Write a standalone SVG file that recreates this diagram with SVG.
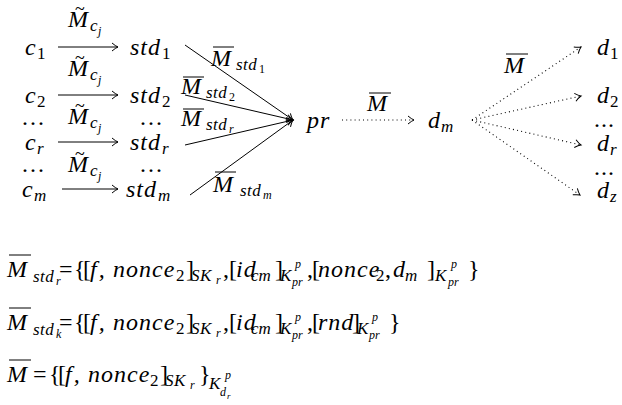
<svg xmlns="http://www.w3.org/2000/svg" width="622" height="405" viewBox="0 0 622 405">
<style>
.ov{stroke:#000;stroke-width:1}
.ln{stroke:#000;stroke-width:1;fill:none}
.dt{stroke:#000;stroke-width:1.1;fill:none;stroke-dasharray:1 3.2}
</style>
<defs>
<marker id="ah" viewBox="-8 -5 10 10" markerWidth="10" markerHeight="10" refX="0" refY="0" orient="auto" markerUnits="userSpaceOnUse">
<path d="M-6,-4 Q-2.5,-1 0,0 Q-2.5,1 -6,4" fill="none" stroke="#000" stroke-width="1"/>
</marker>
</defs>
<rect width="622" height="405" fill="#fff"/>

<g id="connectors">
<line class="ln" x1="58" y1="47" x2="118" y2="47" marker-end="url(#ah)"/>
<line class="ln" x1="58" y1="95" x2="118" y2="95" marker-end="url(#ah)"/>
<line class="ln" x1="58" y1="142" x2="118" y2="142" marker-end="url(#ah)"/>
<line class="ln" x1="62" y1="189" x2="118" y2="189" marker-end="url(#ah)"/>
<line class="ln" x1="185" y1="45" x2="293" y2="120" marker-end="url(#ah)"/>
<line class="ln" x1="185" y1="95" x2="293" y2="120" marker-end="url(#ah)"/>
<line class="ln" x1="185" y1="145" x2="293" y2="120" marker-end="url(#ah)"/>
<line class="ln" x1="190" y1="195" x2="293" y2="120" marker-end="url(#ah)"/>
<line class="dt" x1="342" y1="120" x2="414" y2="120" marker-end="url(#ah)"/>
<line class="dt" x1="472" y1="120" x2="581" y2="47" marker-end="url(#ah)"/>
<line class="dt" x1="472" y1="120" x2="581" y2="96" marker-end="url(#ah)"/>
<line class="dt" x1="472" y1="120" x2="581" y2="145" marker-end="url(#ah)"/>
<line class="dt" x1="472" y1="120" x2="580" y2="195" marker-end="url(#ah)"/>
</g>

<g id="conn-labels">
<g><text style="font-family:'Liberation Serif';font-size:18px" x="75" y="15">~</text><text style="font-family:'Liberation Serif';font-style:italic;font-size:24px" x="68" y="27">M</text><text style="font-family:'Liberation Serif';font-style:italic;font-size:17px" x="90" y="31">c</text><text style="font-family:'Liberation Serif';font-style:italic;font-size:12px" x="98" y="35">j</text></g>
<g><text style="font-family:'Liberation Serif';font-size:18px" x="75" y="64">~</text><text style="font-family:'Liberation Serif';font-style:italic;font-size:24px" x="68" y="76">M</text><text style="font-family:'Liberation Serif';font-style:italic;font-size:17px" x="90" y="80">c</text><text style="font-family:'Liberation Serif';font-style:italic;font-size:12px" x="98" y="84">j</text></g>
<g><text style="font-family:'Liberation Serif';font-size:18px" x="75" y="112">~</text><text style="font-family:'Liberation Serif';font-style:italic;font-size:24px" x="68" y="124">M</text><text style="font-family:'Liberation Serif';font-style:italic;font-size:17px" x="90" y="128">c</text><text style="font-family:'Liberation Serif';font-style:italic;font-size:12px" x="98" y="132">j</text></g>
<g><text style="font-family:'Liberation Serif';font-size:18px" x="75" y="160">~</text><text style="font-family:'Liberation Serif';font-style:italic;font-size:24px" x="68" y="172">M</text><text style="font-family:'Liberation Serif';font-style:italic;font-size:17px" x="90" y="176">c</text><text style="font-family:'Liberation Serif';font-style:italic;font-size:12px" x="98" y="180">j</text></g>
<g><line class="ov" x1="213" y1="47" x2="234" y2="47"/><text style="font-family:'Liberation Serif';font-style:italic;font-size:24px" x="211" y="66">M</text><text style="font-family:'Liberation Serif';font-style:italic;font-size:17px;letter-spacing:0.5px" x="236" y="70">std</text><text style="font-family:'Liberation Serif';font-size:12px" x="259" y="73">1</text></g>
<g><line class="ov" x1="183" y1="77" x2="204" y2="77"/><text style="font-family:'Liberation Serif';font-style:italic;font-size:24px" x="181" y="94">M</text><text style="font-family:'Liberation Serif';font-style:italic;font-size:17px;letter-spacing:0.5px" x="206" y="98">std</text><text style="font-family:'Liberation Serif';font-size:12px" x="229" y="101">2</text></g>
<g><line class="ov" x1="183" y1="109" x2="204" y2="109"/><text style="font-family:'Liberation Serif';font-style:italic;font-size:24px" x="181" y="126">M</text><text style="font-family:'Liberation Serif';font-style:italic;font-size:17px;letter-spacing:0.5px" x="206" y="130">std</text><text style="font-family:'Liberation Serif';font-style:italic;font-size:12px" x="229" y="133">r</text></g>
<g><line class="ov" x1="215" y1="172" x2="236" y2="172"/><text style="font-family:'Liberation Serif';font-style:italic;font-size:24px" x="213" y="192">M</text><text style="font-family:'Liberation Serif';font-style:italic;font-size:17px;letter-spacing:0.5px" x="240" y="196">std</text><text style="font-family:'Liberation Serif';font-style:italic;font-size:12px" x="263" y="199">m</text></g>
<g><line class="ov" x1="369" y1="93" x2="391" y2="93"/><text style="font-family:'Liberation Serif';font-style:italic;font-size:24px" x="367" y="111">M</text></g>
<g><line class="ov" x1="506" y1="54" x2="528" y2="54"/><text style="font-family:'Liberation Serif';font-style:italic;font-size:24px" x="504" y="73">M</text></g>
</g>

<g id="c1"><text style="font-family:'Liberation Serif';font-style:italic;font-size:24px" x="25" y="55">c</text><text style="font-family:'Liberation Serif';font-size:17px" x="37" y="59">1</text></g>
<g id="c2"><text style="font-family:'Liberation Serif';font-style:italic;font-size:24px" x="25" y="103">c</text><text style="font-family:'Liberation Serif';font-size:17px" x="37" y="107">2</text></g>
<g id="cdots1"><text style="font-family:'Liberation Serif';font-size:24px;letter-spacing:2px" x="22" y="125">...</text></g>
<g id="cr"><text style="font-family:'Liberation Serif';font-style:italic;font-size:24px" x="25" y="150">c</text><text style="font-family:'Liberation Serif';font-style:italic;font-size:17px" x="37" y="154">r</text></g>
<g id="cdots2"><text style="font-family:'Liberation Serif';font-size:24px;letter-spacing:2px" x="22" y="172">...</text></g>
<g id="cm"><text style="font-family:'Liberation Serif';font-style:italic;font-size:24px" x="22" y="197">c</text><text style="font-family:'Liberation Serif';font-style:italic;font-size:17px" x="34" y="201">m</text></g>

<g id="std1"><text style="font-family:'Liberation Serif';font-style:italic;font-size:24px;letter-spacing:1px" x="130" y="55">std</text><text style="font-family:'Liberation Serif';font-size:17px" x="162" y="59">1</text></g>
<g id="std2"><text style="font-family:'Liberation Serif';font-style:italic;font-size:24px;letter-spacing:1px" x="130" y="103">std</text><text style="font-family:'Liberation Serif';font-size:17px" x="162" y="107">2</text></g>
<g id="stddots1"><text style="font-family:'Liberation Serif';font-size:24px;letter-spacing:2px" x="140" y="125">...</text></g>
<g id="stdr"><text style="font-family:'Liberation Serif';font-style:italic;font-size:24px;letter-spacing:1px" x="130" y="150">std</text><text style="font-family:'Liberation Serif';font-style:italic;font-size:17px" x="162" y="154">r</text></g>
<g id="stddots2"><text style="font-family:'Liberation Serif';font-size:24px;letter-spacing:2px" x="140" y="172">...</text></g>
<g id="stdm"><text style="font-family:'Liberation Serif';font-style:italic;font-size:24px;letter-spacing:1px" x="126" y="197">std</text><text style="font-family:'Liberation Serif';font-style:italic;font-size:17px" x="158" y="201">m</text></g>

<g id="pr"><text style="font-family:'Liberation Serif';font-style:italic;font-size:24px;letter-spacing:1px" x="307" y="128">pr</text></g>
<g id="dm"><text style="font-family:'Liberation Serif';font-style:italic;font-size:24px" x="428" y="128">d</text><text style="font-family:'Liberation Serif';font-style:italic;font-size:17px;letter-spacing:1px" x="441" y="132">m</text></g>

<g id="d1"><text style="font-family:'Liberation Serif';font-style:italic;font-size:24px" x="597" y="55">d</text><text style="font-family:'Liberation Serif';font-size:17px" x="610" y="59">1</text></g>
<g id="d2"><text style="font-family:'Liberation Serif';font-style:italic;font-size:24px" x="597" y="103">d</text><text style="font-family:'Liberation Serif';font-size:17px" x="610" y="107">2</text></g>
<g id="ddots1"><text style="font-family:'Liberation Serif';font-size:24px;letter-spacing:1px" x="594" y="127">...</text></g>
<g id="dr"><text style="font-family:'Liberation Serif';font-style:italic;font-size:24px" x="597" y="151">d</text><text style="font-family:'Liberation Serif';font-style:italic;font-size:17px" x="610" y="155">r</text></g>
<g id="ddots2"><text style="font-family:'Liberation Serif';font-size:24px;letter-spacing:1px" x="594" y="175">...</text></g>
<g id="dz"><text style="font-family:'Liberation Serif';font-style:italic;font-size:24px" x="597" y="198">d</text><text style="font-family:'Liberation Serif';font-style:italic;font-size:17px" x="610" y="202">z</text></g>

<g id="eq1">
<line class="ov" x1="9" y1="255" x2="31" y2="255"/>
<text style="font-family:'Liberation Serif';font-style:italic;font-size:24px" x="7" y="277">M</text><text style="font-family:'Liberation Serif';font-style:italic;font-size:17px;letter-spacing:0.5px" x="33" y="282">std</text><text style="font-family:'Liberation Serif';font-style:italic;font-size:12px" x="56" y="285">r</text>
<text style="font-family:'Liberation Serif';font-size:24px" x="59" y="277">=</text>
<text style="font-family:'Liberation Serif';font-size:24px" x="74" y="277">{</text>
<text style="font-family:'Liberation Serif';font-size:24px" x="83" y="277">[</text>
<text style="font-family:'Liberation Serif';font-style:italic;font-size:24px;letter-spacing:2px" x="90" y="277">f,</text>
<text style="font-family:'Liberation Serif';font-style:italic;font-size:24px;letter-spacing:1px" x="113" y="277">nonce</text><text style="font-family:'Liberation Serif';font-size:17px" x="176" y="281">2</text>
<text style="font-family:'Liberation Serif';font-size:24px" x="186" y="277">]</text>
<text style="font-family:'Liberation Serif';font-style:italic;font-size:17px;letter-spacing:0.5px" x="191" y="281">SK</text><text style="font-family:'Liberation Serif';font-style:italic;font-size:12px" x="216" y="284">r</text>
<text style="font-family:'Liberation Serif';font-size:24px" x="223" y="277">,</text>
<text style="font-family:'Liberation Serif';font-size:24px" x="229" y="277">[</text>
<text style="font-family:'Liberation Serif';font-style:italic;font-size:24px;letter-spacing:1px" x="236" y="277">id</text><text style="font-family:'Liberation Serif';font-style:italic;font-size:17px" x="251" y="281">cm</text>
<text style="font-family:'Liberation Serif';font-size:24px" x="275" y="277">]</text>
<text style="font-family:'Liberation Serif';font-style:italic;font-size:17px" x="280" y="281">K</text><text style="font-family:'Liberation Serif';font-style:italic;font-size:12px" x="295" y="268">p</text><text style="font-family:'Liberation Serif';font-style:italic;font-size:12px" x="292" y="286">pr</text>
<text style="font-family:'Liberation Serif';font-size:24px" x="307" y="277">,</text>
<text style="font-family:'Liberation Serif';font-size:24px" x="312" y="277">[</text>
<text style="font-family:'Liberation Serif';font-style:italic;font-size:24px;letter-spacing:1px" x="318" y="277">nonce</text><text style="font-family:'Liberation Serif';font-size:17px" x="376" y="281">2</text>
<text style="font-family:'Liberation Serif';font-size:24px" x="385" y="277">,</text>
<text style="font-family:'Liberation Serif';font-style:italic;font-size:24px" x="393" y="277">d</text><text style="font-family:'Liberation Serif';font-style:italic;font-size:17px;letter-spacing:1px" x="405" y="281">m</text>
<text style="font-family:'Liberation Serif';font-size:24px" x="427" y="277">]</text>
<text style="font-family:'Liberation Serif';font-style:italic;font-size:17px" x="435" y="281">K</text><text style="font-family:'Liberation Serif';font-style:italic;font-size:12px" x="451" y="268">p</text><text style="font-family:'Liberation Serif';font-style:italic;font-size:12px" x="448" y="286">pr</text>
<text style="font-family:'Liberation Serif';font-size:24px" x="468" y="277">}</text>
</g>

<g id="eq2">
<line class="ov" x1="9" y1="308" x2="31" y2="308"/>
<text style="font-family:'Liberation Serif';font-style:italic;font-size:24px" x="7" y="330">M</text><text style="font-family:'Liberation Serif';font-style:italic;font-size:17px;letter-spacing:0.5px" x="33" y="335">std</text><text style="font-family:'Liberation Serif';font-style:italic;font-size:12px" x="56" y="338">k</text>
<text style="font-family:'Liberation Serif';font-size:24px" x="59" y="330">=</text>
<text style="font-family:'Liberation Serif';font-size:24px" x="74" y="330">{</text>
<text style="font-family:'Liberation Serif';font-size:24px" x="83" y="330">[</text>
<text style="font-family:'Liberation Serif';font-style:italic;font-size:24px;letter-spacing:2px" x="90" y="330">f,</text>
<text style="font-family:'Liberation Serif';font-style:italic;font-size:24px;letter-spacing:1px" x="113" y="330">nonce</text><text style="font-family:'Liberation Serif';font-size:17px" x="176" y="334">2</text>
<text style="font-family:'Liberation Serif';font-size:24px" x="186" y="330">]</text>
<text style="font-family:'Liberation Serif';font-style:italic;font-size:17px;letter-spacing:0.5px" x="191" y="334">SK</text><text style="font-family:'Liberation Serif';font-style:italic;font-size:12px" x="216" y="337">r</text>
<text style="font-family:'Liberation Serif';font-size:24px" x="223" y="330">,</text>
<text style="font-family:'Liberation Serif';font-size:24px" x="229" y="330">[</text>
<text style="font-family:'Liberation Serif';font-style:italic;font-size:24px;letter-spacing:1px" x="236" y="330">id</text><text style="font-family:'Liberation Serif';font-style:italic;font-size:17px" x="251" y="334">cm</text>
<text style="font-family:'Liberation Serif';font-size:24px" x="275" y="330">]</text>
<text style="font-family:'Liberation Serif';font-style:italic;font-size:17px" x="280" y="334">K</text><text style="font-family:'Liberation Serif';font-style:italic;font-size:12px" x="295" y="321">p</text><text style="font-family:'Liberation Serif';font-style:italic;font-size:12px" x="292" y="339">pr</text>
<text style="font-family:'Liberation Serif';font-size:24px" x="307" y="330">,</text>
<text style="font-family:'Liberation Serif';font-size:24px" x="312" y="330">[</text>
<text style="font-family:'Liberation Serif';font-style:italic;font-size:24px;letter-spacing:1px" x="318" y="330">rnd</text>
<text style="font-family:'Liberation Serif';font-size:24px" x="352" y="330">]</text>
<text style="font-family:'Liberation Serif';font-style:italic;font-size:17px" x="357" y="334">K</text><text style="font-family:'Liberation Serif';font-style:italic;font-size:12px" x="372" y="321">p</text><text style="font-family:'Liberation Serif';font-style:italic;font-size:12px" x="369" y="339">pr</text>
<text style="font-family:'Liberation Serif';font-size:24px" x="389" y="330">}</text>
</g>

<g id="eq3">
<line class="ov" x1="9" y1="360" x2="31" y2="360"/>
<text style="font-family:'Liberation Serif';font-style:italic;font-size:24px" x="7" y="382">M</text>
<text style="font-family:'Liberation Serif';font-size:24px" x="33" y="382">=</text>
<text style="font-family:'Liberation Serif';font-size:24px" x="49" y="382">{</text>
<text style="font-family:'Liberation Serif';font-size:24px" x="58" y="382">[</text>
<text style="font-family:'Liberation Serif';font-style:italic;font-size:24px;letter-spacing:2px" x="65" y="382">f,</text>
<text style="font-family:'Liberation Serif';font-style:italic;font-size:24px;letter-spacing:1px" x="88" y="382">nonce</text><text style="font-family:'Liberation Serif';font-size:17px" x="150" y="386">2</text>
<text style="font-family:'Liberation Serif';font-size:24px" x="160" y="382">]</text>
<text style="font-family:'Liberation Serif';font-style:italic;font-size:17px;letter-spacing:0.5px" x="165" y="386">SK</text><text style="font-family:'Liberation Serif';font-style:italic;font-size:12px" x="190" y="389">r</text>
<text style="font-family:'Liberation Serif';font-size:24px" x="199" y="382">}</text>
<text style="font-family:'Liberation Serif';font-style:italic;font-size:17px" x="209" y="389">K</text><text style="font-family:'Liberation Serif';font-style:italic;font-size:12px" x="225" y="379">p</text><text style="font-family:'Liberation Serif';font-style:italic;font-size:12px" x="220" y="396">d</text><text style="font-family:'Liberation Serif';font-style:italic;font-size:9px" x="227" y="399">r</text>
</g>
</svg>
